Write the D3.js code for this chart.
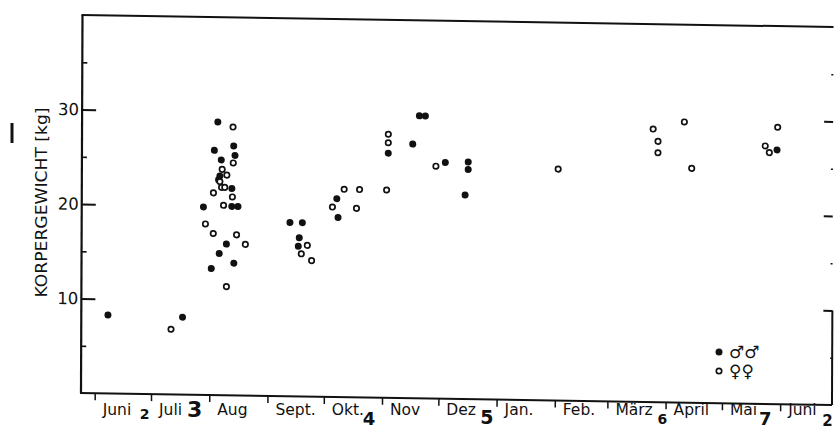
<!DOCTYPE html>
<html>
<head>
<meta charset="utf-8">
<script src="https://cdn.jsdelivr.net/npm/d3@7/dist/d3.min.js"></script>
<style>
  html, body { margin: 0; padding: 0; background: #fff; }
  svg { display: block; }
  text { font-family: "DejaVu Sans", "Liberation Sans", Arial, sans-serif; fill: #111; }
</style>
</head>
<body>
<svg id="chart" width="836" height="432"></svg>
<script>
// ---------- data ----------
const months    = ["Juni", "Juli", "Aug", "Sept.", "Okt.", "Nov", "Dez", "Jan.", "Feb.", "März", "April", "Mai", "Juni"];
const monthDays = [30, 31, 31, 30, 31, 30, 31, 31, 28, 31, 30, 31, 30];
const monthNotes = ["2", "3", "", "", "4", "", "5", "", "", "6", "", "7", "2"];   // handwritten marks
const yMajor = [10, 20, 30];
const yMinor = [5, 15, 25, 35];
const yTitle = "KORPERGEWICHT [kg]";

// [days since 1 June, body weight kg]
const males = [
  [6.9, 8.3], [46.6, 8.2],
  [65.0, 28.9], [73.5, 26.4], [63.2, 25.9], [74.2, 25.4], [66.9, 24.9], [66.2, 23.2], [65.5, 22.8],
  [72.6, 21.9], [57.5, 19.9], [72.6, 20.0], [75.9, 20.0], [69.8, 16.0], [66.0, 15.0], [73.8, 14.0], [61.8, 13.4],
  [103.6, 18.4], [110.2, 18.4], [108.6, 16.8], [108.1, 15.9],
  [128.5, 21.0], [129.2, 19.0],
  [155.8, 25.9], [168.8, 26.9], [172.3, 29.9], [175.5, 29.9],
  [186.2, 25.0], [198.4, 25.1], [198.4, 24.3], [196.8, 21.6],
  [362.8, 26.9]
];
const females = [
  [40.5, 6.9],
  [73.1, 28.4], [73.3, 24.6], [67.4, 23.9], [69.9, 23.3], [66.2, 22.6], [67.1, 22.0], [68.8, 22.0],
  [62.8, 21.4], [72.9, 21.0], [68.2, 20.1], [58.6, 18.1], [62.8, 17.1], [75.2, 17.0], [79.9, 16.0], [69.9, 11.5],
  [112.9, 16.0], [109.7, 15.1], [115.2, 14.4],
  [126.2, 20.1], [132.4, 22.0], [140.6, 22.0], [139.0, 20.0],
  [155.0, 22.0], [155.8, 27.9], [155.8, 27.0],
  [181.2, 24.6],
  [246.3, 24.5],
  [296.8, 28.9], [313.4, 29.7], [299.4, 27.6], [299.4, 26.4], [317.4, 24.8],
  [363.1, 29.3], [356.5, 27.3], [358.7, 26.6]
];
const legendItems = [["male", "♂♂"], ["female", "♀♀"]];

// ---------- layout ----------
const W = 751, H = 378;
const skew = { b: 0.016, c: -0.004, e: 82.5, f: 15 };   // scanned page is slightly tilted
const svg = d3.select("#chart");

const monthStarts = d3.cumsum([0].concat(monthDays.slice(0, -1)));
const x = d3.scaleLinear().domain([-7.3, 392.6]).range([0, W]);
const y = d3.scaleLinear().domain([0, 40]).range([H, 0]);

const g = svg.append("g")
  .attr("transform", `matrix(1,${skew.b},${skew.c},1,${skew.e},${skew.f})`);

const ink = "#111";

// frame
g.append("line").attr("x1", 0).attr("y1", 0).attr("x2", 0).attr("y2", H)
  .attr("stroke", ink).attr("stroke-width", 2.2);
g.append("line").attr("x1", -1).attr("y1", 0).attr("x2", W).attr("y2", 0)
  .attr("stroke", ink).attr("stroke-width", 2);
g.append("line").attr("x1", -1).attr("y1", H).attr("x2", W).attr("y2", H)
  .attr("stroke", ink).attr("stroke-width", 2);
g.append("line").attr("x1", W).attr("y1", y(10)).attr("x2", W).attr("y2", H)
  .attr("stroke", ink).attr("stroke-width", 2);

// left axis (ticks pointing inward)
const leftAxis = d3.axisLeft(y).tickValues(yMajor).tickSize(-14).tickPadding(3).tickFormat(d3.format("d"));
const la = g.append("g").call(leftAxis);
la.select(".domain").remove();
la.selectAll(".tick line").attr("stroke", ink).attr("stroke-width", 2);
la.selectAll(".tick text").attr("x", -3).style("font-size", "16.5px")
  .style("font-family", "DejaVu Sans, sans-serif").attr("fill", ink);

const leftMinor = d3.axisLeft(y).tickValues(yMinor).tickSize(-5).tickFormat("");
const lm = g.append("g").call(leftMinor);
lm.select(".domain").remove();
lm.selectAll(".tick line").attr("stroke", ink).attr("stroke-width", 1.6);

// right axis (ticks pointing inward)
const ra = g.append("g").attr("transform", `translate(${W},0)`)
  .call(d3.axisRight(y).tickValues(yMajor).tickSize(-9).tickFormat(""));
ra.select(".domain").remove();
ra.selectAll(".tick line").attr("stroke", ink).attr("stroke-width", 2);
const rm = g.append("g").attr("transform", `translate(${W},0)`)
  .call(d3.axisRight(y).tickValues(yMinor).tickSize(-2).tickFormat(""));
rm.select(".domain").remove();
rm.selectAll(".tick line").attr("stroke", ink).attr("stroke-width", 1.4);

// bottom month ticks (downward)
const ba = g.append("g").attr("transform", `translate(0,${H})`)
  .call(d3.axisBottom(x).tickValues(monthStarts).tickSize(7).tickFormat(""));
ba.select(".domain").remove();
ba.selectAll(".tick line").attr("stroke", ink).attr("stroke-width", 1.5);

// data
g.append("g").selectAll("circle.m").data(males).join("circle")
  .attr("class", "m")
  .attr("cx", d => x(d[0])).attr("cy", d => y(d[1])).attr("r", 3.5)
  .attr("fill", ink);
g.append("g").selectAll("circle.f").data(females).join("circle")
  .attr("class", "f")
  .attr("cx", d => x(d[0])).attr("cy", d => y(d[1])).attr("r", 2.7)
  .attr("fill", "#fff").attr("stroke", ink).attr("stroke-width", 1.7);

// month labels (upright on the page)
const bottomX = d => skew.e + skew.c * H + x(d);
const labels = svg.append("g");
labels.selectAll("text.mon").data(months).join("text")
  .attr("class", "mon")
  .attr("x", (d, i) => bottomX(monthStarts[i]) + 8)
  .attr("y", 415)
  .style("font-size", "15.5px")
  .text(d => d);

// handwritten numbers next to some months
const noteStyle = [
  { dx: 45, dy: 419, fs: 14 }, { dx: 36, dy: 417, fs: 22 }, null, null,
  { dx: 39, dy: 425, fs: 18 }, null, { dx: 42, dy: 424, fs: 19 }, null, null,
  { dx: 50, dy: 424, fs: 14 }, null, { dx: 37, dy: 425, fs: 18 }, { dx: 42, dy: 426, fs: 15 }
];
labels.selectAll("text.note").data(monthNotes.map((n, i) => ({ n, i })).filter(d => d.n))
  .join("text")
  .attr("class", "note")
  .attr("x", d => bottomX(monthStarts[d.i]) + noteStyle[d.i].dx)
  .attr("y", d => noteStyle[d.i].dy)
  .style("font-weight", "bold")
  .style("font-size", d => noteStyle[d.i].fs + "px")
  .text(d => d.n);

// y title
svg.append("text")
  .attr("transform", "translate(47,202.5) rotate(-90)")
  .attr("text-anchor", "middle")
  .attr("textLength", 190)
  .attr("lengthAdjust", "spacingAndGlyphs")
  .style("font-size", "16px")
  .text(yTitle);

// scan mark at far left
svg.append("line").attr("x1", 12).attr("y1", 123).attr("x2", 12).attr("y2", 143)
  .attr("stroke", ink).attr("stroke-width", 3);

// legend
const lg = svg.append("g").attr("transform", "translate(719,352)");
legendItems.forEach((it, i) => {
  const row = lg.append("g").attr("transform", `translate(0,${i * 19})`);
  if (it[0] === "male") row.append("circle").attr("r", 3.5).attr("fill", ink);
  else row.append("circle").attr("r", 2.7).attr("fill", "#fff").attr("stroke", ink).attr("stroke-width", 1.7);
  row.append("text").attr("x", 10).attr("y", 6)
    .style("font-size", "17px").style("font-weight", "bold")
    .text(it[1]);
});
</script>
</body>
</html>
